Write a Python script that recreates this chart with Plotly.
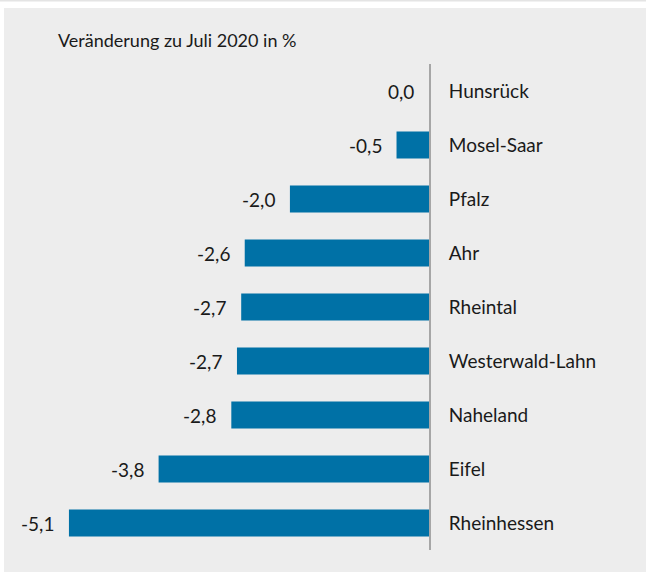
import plotly.graph_objects as go

categories = ["Hunsrück", "Mosel-Saar", "Pfalz", "Ahr", "Rheintal",
              "Westerwald-Lahn", "Naheland", "Eifel", "Rheinhessen"]
values = [0.0, -0.46, -1.97, -2.61, -2.66, -2.72, -2.80, -3.83, -5.10]
title_text = "Veränderung zu Juli 2020 in %"

labels = [f"{v:.1f}".replace(".", ",") for v in values]

W, H = 646, 572
L, R, T, B = 10, 217, 64, 22
PW, PH = W - L - R, H - T - B
SCALE = 70.6  # px per unit
xmin = -PW / SCALE

FONT = "Lato"
TXT = "#1a1a1a"
BG = "#ededed"
BAR = "#0071a6"

def px(x):
    return (x - L) / PW

def py(y):
    return (H - B - y) / PH

fig = go.Figure()
fig.add_trace(go.Bar(
    x=values, y=categories, orientation="h",
    marker=dict(color=BAR, line=dict(width=0)),
    width=0.5, showlegend=False, hoverinfo="skip",
))

annotations = []
for c, v, lab in zip(categories, values, labels):
    annotations.append(dict(
        x=v, y=c, xref="x", yref="y", text=lab, showarrow=False,
        xanchor="right", yanchor="middle", xshift=-13,
        font=dict(family=FONT, size=19, color=TXT),
    ))

shapes = [
    dict(type="rect", xref="paper", yref="paper", layer="below",
         x0=px(0), x1=px(W), y0=py(0), y1=py(8),
         fillcolor="white", line=dict(width=0)),
    dict(type="rect", xref="paper", yref="paper", layer="below",
         x0=px(0), x1=px(4), y0=py(0), y1=py(H),
         fillcolor="white", line=dict(width=0)),
    dict(type="rect", xref="paper", yref="paper", layer="below",
         x0=px(0), x1=px(W), y0=py(0), y1=py(1.5),
         fillcolor="#e4e4e4", line=dict(width=0)),
]

fig.update_layout(
    width=W, height=H,
    margin=dict(l=L, r=R, t=T, b=B, pad=0),
    paper_bgcolor=BG, plot_bgcolor=BG,
    title=dict(text=title_text, x=58 / W, xanchor="left", xref="container",
               y=1 - 41 / H, yanchor="middle", yref="container",
               font=dict(family=FONT, size=18, color=TXT)),
    xaxis=dict(range=[xmin, 0], visible=False, fixedrange=True),
    yaxis=dict(autorange="reversed", side="right", showline=True,
               linecolor="#a6a6a6", linewidth=2, showgrid=False,
               zeroline=False, ticks="", ticklabelstandoff=14,
               fixedrange=True,
               tickfont=dict(family=FONT, size=19, color=TXT)),
    bargap=0.5,
    annotations=annotations,
    shapes=shapes,
    font=dict(family=FONT),
)

fig.write_html(
    "out.html",
    config={"displayModeBar": False, "staticPlot": True},
    post_script=(
        "document.body.style.margin='0';"
        "document.body.style.overflow='hidden';"
        "document.body.style.background='#ededed';"
        "document.documentElement.style.background='#ededed';"
    ),
)
